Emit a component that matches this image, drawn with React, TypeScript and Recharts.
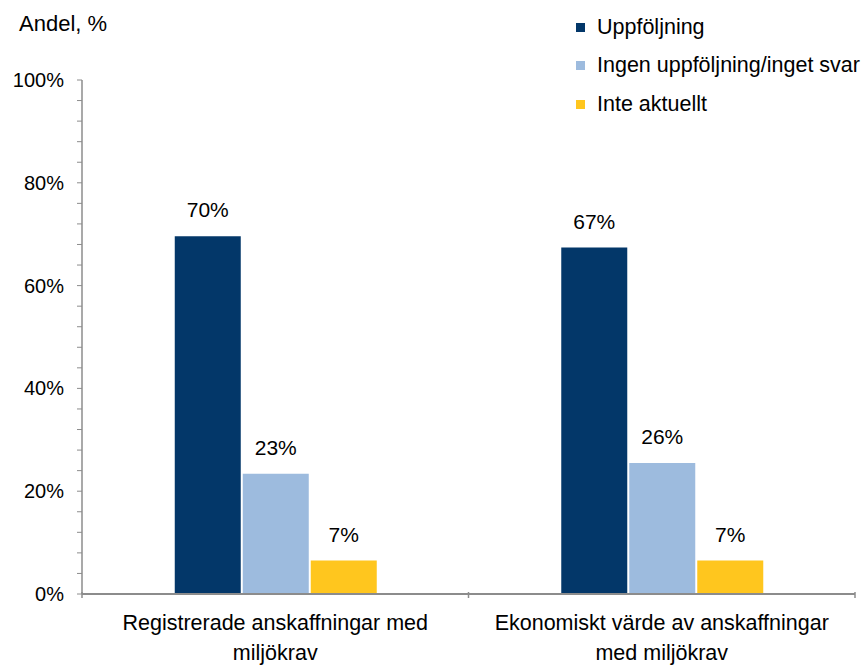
import React from 'react';
import { BarChart, Bar, XAxis, YAxis, LabelList } from 'recharts';

const categories = ['Registrerade anskaffningar med miljökrav', 'Ekonomiskt värde av anskaffningar med miljökrav'];
const uppfoljning = [69.6, 67.4];
const ingenUppfoljning = [23.4, 25.5];
const inteAktuellt = [6.5, 6.5];
const yTicks = [0, 4, 8, 12, 16, 20, 24, 28, 32, 36, 40, 44, 48, 52, 56, 60, 64, 68, 72, 76, 80, 84, 88, 92, 96, 100];

const series = [
  { key: 'a', name: 'Uppföljning', color: '#033769' },
  { key: 'b', name: 'Ingen uppföljning/inget svar', color: '#9dbbde' },
  { key: 'c', name: 'Inte aktuellt', color: '#ffc61e' },
];

const data = categories.map((name, i) => ({
  name,
  a: uppfoljning[i],
  b: ingenUppfoljning[i],
  c: inteAktuellt[i],
}));

const FONT = '"Liberation Sans", Arial, sans-serif';
const AXIS = '#8c8c8c';

// greedy word wrap, ~34 chars per line
function wrap(s: string, max = 34) {
  const lines: string[] = [];
  let cur = '';
  for (const w of s.split(' ')) {
    if (cur && (cur + ' ' + w).length > max) {
      lines.push(cur);
      cur = w;
    } else {
      cur = cur ? cur + ' ' + w : w;
    }
  }
  if (cur) lines.push(cur);
  return lines;
}

const YTick = (props: any) => {
  const { x, y, payload } = props;
  if (payload.value % 20 !== 0) return null;
  return (
    <text x={x} y={y} dy={7} textAnchor="end" fontSize={20} fill="#000" fontFamily={FONT}>
      {`${payload.value}%`}
    </text>
  );
};

const XTick = (props: any) => {
  const { x, y, payload, index } = props;
  const half = payload.offset ?? 193;
  const top = y - 10;
  return (
    <g>
      <line x1={x + half} x2={x + half} y1={top} y2={top + 6} stroke={AXIS} strokeWidth={1.5} />
      {index === 0 && <line x1={x - half} x2={x - half} y1={top} y2={top + 6} stroke={AXIS} strokeWidth={1.5} />}
      <text textAnchor="middle" fontSize={21.5} fill="#000" fontFamily={FONT}>
        {wrap(payload.value).map((l, i) => (
          <tspan key={i} x={x} y={y + 28 + i * 30}>{l}</tspan>
        ))}
      </text>
    </g>
  );
};

const LegendBox = () => (
  <div style={{ position: 'absolute', left: 576, top: 8, fontFamily: FONT, fontSize: 21.5, color: '#000', whiteSpace: 'nowrap' }}>
    {series.map((s) => (
      <div key={s.key} style={{ display: 'flex', alignItems: 'center', height: 38.5 }}>
        <span style={{ width: 9, height: 9, background: s.color, display: 'inline-block', marginRight: 12 }} />
        <span>{s.name}</span>
      </div>
    ))}
  </div>
);

export default function App() {
  return (
    <div style={{ position: 'absolute', left: 0, top: 0, width: 864, height: 666, background: '#fff', overflow: 'hidden' }}>
      <div style={{ position: 'absolute', left: 19, top: 13, fontFamily: FONT, fontSize: 22, lineHeight: '22px' }}>
        Andel, %
      </div>
      <BarChart width={864} height={666} data={data} margin={{ top: 80, right: 9, bottom: 0, left: 0 }}
        barCategoryGap="24%" barGap={2}>
        <XAxis dataKey="name" height={72} tickLine={false} tick={<XTick />}
          axisLine={{ stroke: AXIS, strokeWidth: 2 }} interval={0} />
        <YAxis width={82} domain={[0, 100]} ticks={yTicks} interval={0} tick={<YTick />}
          tickSize={5} tickMargin={13} tickLine={{ stroke: AXIS }} axisLine={{ stroke: AXIS, strokeWidth: 1.5 }} />
        {series.map((s) => (
          <Bar key={s.key} dataKey={s.key} name={s.name} fill={s.color} isAnimationActive={false}>
            <LabelList dataKey={s.key} position="top" offset={19} fontSize={21} fill="#000" fontFamily={FONT}
              formatter={(v: any) => `${Math.round(Number(v))}%`} />
          </Bar>
        ))}
      </BarChart>
      <LegendBox />
    </div>
  );
}
